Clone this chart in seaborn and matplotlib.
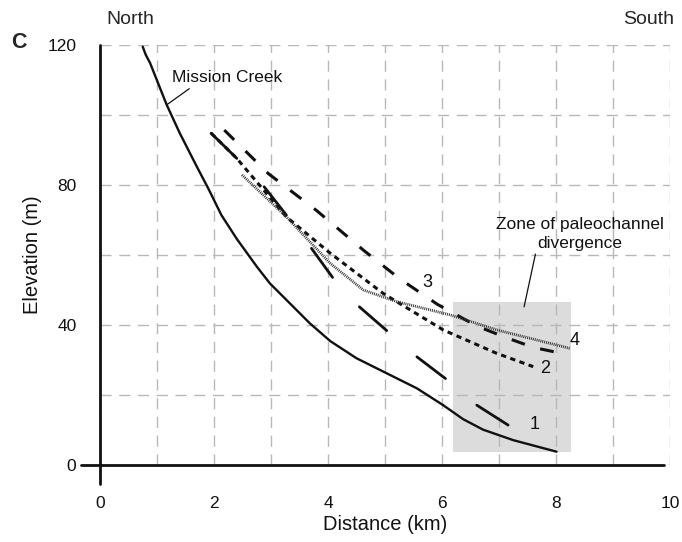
import matplotlib
matplotlib.use("Agg")
import numpy as np
import pandas as pd
import seaborn as sns
import matplotlib.pyplot as plt
from matplotlib.patches import Rectangle
from matplotlib.ticker import MultipleLocator

# ---------------- data ----------------
creek_x = [0.75, 0.80, 0.88, 1.17, 1.40, 1.70, 1.90, 2.13, 2.40, 2.75, 2.98, 3.33, 3.68, 4.04, 4.50, 5.03, 5.56, 6.02, 6.37, 6.72, 7.25, 8.01]
creek_y = [119.5, 117.3, 114.8, 102.9, 94.8, 85.2, 79.0, 71.4, 64.6, 56.7, 51.9, 46.2, 40.5, 35.4, 30.5, 26.2, 21.9, 17.1, 13.1, 10.1, 7.1, 3.8]

# paleochannel 1: separate dash segments
p1_seg = [0, 0, 1, 1, 2, 2, 3, 3, 4, 4, 5, 5]
p1_x = [1.95, 2.40, 2.88, 3.27, 3.71, 4.08, 4.55, 5.03, 5.56, 6.06, 6.61, 7.16]
p1_y = [94.8, 87.6, 79.5, 71.4, 61.9, 53.6, 45.2, 38.4, 30.9, 24.7, 17.1, 11.4]

p2_x = [1.95, 2.40, 3.27, 4.04, 4.97, 6.02, 6.96, 7.60]
p2_y = [94.8, 87.6, 70.9, 60.5, 49.0, 38.6, 31.9, 28.1]

p3_x = [2.18, 2.95, 3.80, 4.62, 5.25, 5.92, 6.61, 7.11, 7.60, 8.04]
p3_y = [95.7, 83.3, 72.7, 61.4, 53.3, 45.9, 39.7, 36.5, 33.6, 32.1]

p4_x = [2.49, 3.27, 4.04, 4.62, 5.20, 6.14, 6.96, 8.25]
p4_y = [82.9, 70.9, 57.6, 50.0, 46.7, 42.9, 38.6, 33.3]

zone_x = [6.19, 8.27]
zone_y = [3.6, 46.7]

x_ticks = [0, 2, 4, 6, 8, 10]
y_ticks = [0, 40, 80, 120]

series_labels = ["1", "2", "3", "4"]
series_label_x = [7.63, 7.81, 5.75, 8.33]
series_label_y = [11.7, 27.5, 52.1, 35.5]

# ---------------- style ----------------
sns.set_style("white")
plt.rcParams["font.family"] = ["Liberation Sans", "DejaVu Sans"]
plt.rcParams["lines.scale_dashes"] = False

fig = plt.figure(figsize=(6.82, 5.42), dpi=100)
ax = fig.add_axes([100 / 682, 77 / 542, 570 / 682, 420 / 542])
ax.set_xlim(0, 10)
ax.set_ylim(0, 120)

# shaded zone
ax.add_patch(Rectangle((zone_x[0], zone_y[0]), zone_x[1] - zone_x[0], zone_y[1] - zone_y[0],
                       facecolor="#dcdcdd", edgecolor="none", zorder=0))

# grid
ax.xaxis.set_minor_locator(MultipleLocator(1))
ax.yaxis.set_minor_locator(MultipleLocator(20))
ax.set_axisbelow(False)
ax.grid(True, which="both", color="#b8b8b8", lw=1.0, linestyle=(0, (8, 5.5)), zorder=0.5)

# creek
df_c = pd.DataFrame({"x": creek_x, "y": creek_y})
sns.lineplot(data=df_c, x="x", y="y", sort=False, estimator=None, color="#111111", lw=1.7, ax=ax, zorder=3)

# paleochannel 1 (long dashes)
df1 = pd.DataFrame({"x": p1_x, "y": p1_y, "seg": p1_seg})
sns.lineplot(data=df1, x="x", y="y", units="seg", sort=False, estimator=None, color="#111111",
             lw=2.0, ax=ax, zorder=3)

# paleochannel 2 (short dashes)
df2 = pd.DataFrame({"x": p2_x, "y": p2_y})
sns.lineplot(data=df2, x="x", y="y", sort=False, estimator=None, color="#111111", lw=2.2, ax=ax, zorder=3)
ax.lines[-1].set_linestyle((0, (3.8, 3.2)))

# paleochannel 3 (medium dashes)
df3 = pd.DataFrame({"x": p3_x, "y": p3_y})
sns.lineplot(data=df3, x="x", y="y", sort=False, estimator=None, color="#111111", lw=2.2, ax=ax, zorder=3)
ax.lines[-1].set_linestyle((0, (10, 11.5)))

# paleochannel 4 (dotted)
df4 = pd.DataFrame({"x": p4_x, "y": p4_y})
sns.lineplot(data=df4, x="x", y="y", sort=False, estimator=None, color="#333333", lw=2.0, ax=ax, zorder=3.5)
ax.lines[-1].set_linestyle((0, (0.7, 0.7)))

# series labels
for s, sx, sy in zip(series_labels, series_label_x, series_label_y):
    ax.text(sx, sy, s, fontsize=13, ha="center", va="center", color="#111111", zorder=4)

# annotations
ax.annotate("Mission Creek", xy=(1.17, 102.9), xytext=(1.26, 110.6), fontsize=12.5,
            ha="left", va="center", color="#111111",
            arrowprops=dict(arrowstyle="-", color="#111111", lw=0.9, shrinkA=0, shrinkB=0,
                            relpos=(0.2, 0.0)), zorder=4)
ax.annotate("Zone of paleochannel\ndivergence", xy=(7.44, 45.2), xytext=(8.42, 66.0), fontsize=12.5,
            ha="center", va="center", color="#111111", linespacing=1.3,
            arrowprops=dict(arrowstyle="-", color="#111111", lw=0.9, shrinkA=0, shrinkB=0,
                            relpos=(0.25, 0.25)), zorder=4)

# axes lines
for sp in ax.spines.values():
    sp.set_visible(False)
ax.plot([-0.33, 9.9], [0, 0], color="#111111", lw=2.0, clip_on=False, zorder=5)
ax.plot([0, 0], [-5.5, 120], color="#111111", lw=2.0, clip_on=False, zorder=5)

ax.set_xticks(x_ticks)
ax.set_yticks(y_ticks)
ax.set_xticklabels([str(t) for t in x_ticks])
ax.set_yticklabels([str(t) for t in y_ticks])
ax.tick_params(axis="both", which="both", length=0, labelsize=12.5, colors="#111111")
ax.tick_params(axis="x", pad=22)
ax.tick_params(axis="y", pad=17)
ax.set_xlabel("Distance (km)", fontsize=14.5, color="#111111", labelpad=3)
ax.set_ylabel("Elevation (m)", fontsize=14.5, color="#111111", labelpad=4)

fig.text(19 / 682, 1 - 43 / 542, "C", fontsize=15.5, fontweight="bold", ha="center", va="center")
fig.text(130 / 682, 1 - 20 / 542, "North", fontsize=14, ha="center", va="center")
fig.text(649 / 682, 1 - 20 / 542, "South", fontsize=14, ha="center", va="center")

fig.savefig("out.png", dpi=100)
